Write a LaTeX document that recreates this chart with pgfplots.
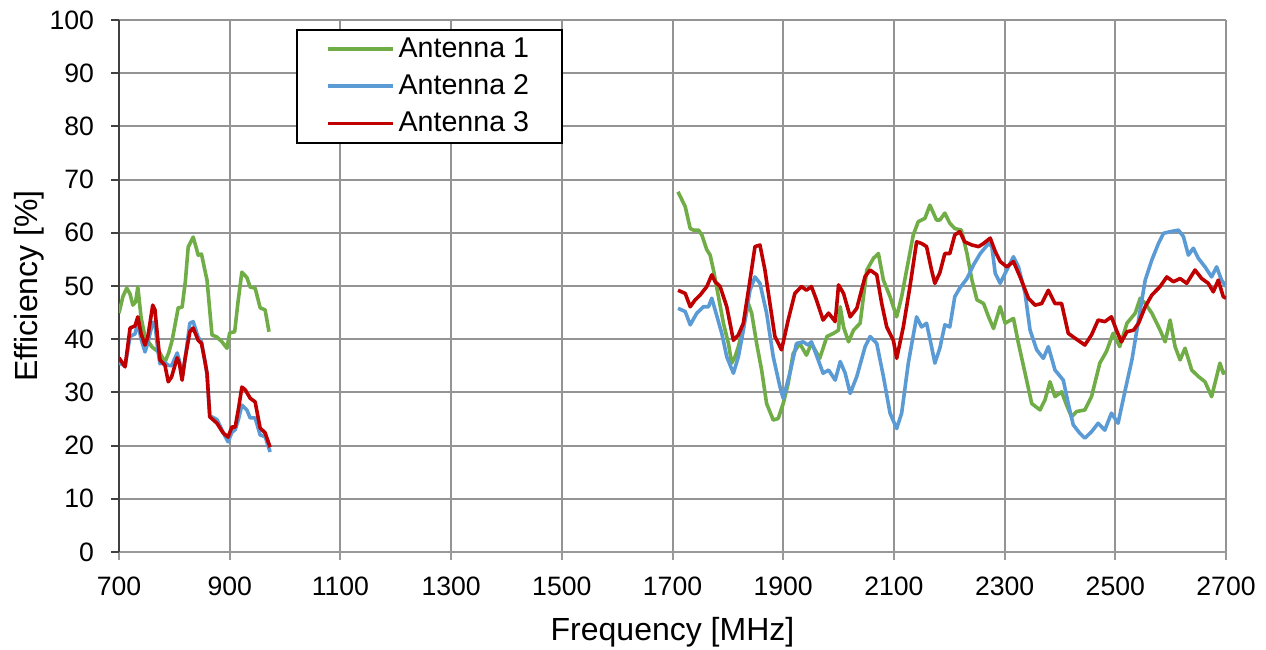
\documentclass[border=0pt]{standalone}
\usepackage{fontspec}
\setmainfont{Liberation Sans}
\usepackage{pgfplots}
\pgfplotsset{compat=1.18}
\usetikzlibrary{calc}
\definecolor{antA}{RGB}{112,173,71}
\definecolor{antB}{RGB}{91,155,213}
\definecolor{antC}{RGB}{192,0,0}
\begin{document}
\begin{tikzpicture}
\begin{axis}[
  name=ax, at={(0,0)}, anchor=south west,
  width=553.5pt, height=266pt, scale only axis,
  xmin=700, xmax=2700, ymin=0, ymax=100,
  xtick={700,900,...,2700}, ytick distance=10,
  axis x line*=bottom, axis y line*=left,
  x axis line style={black!40, line width=1pt},
  y axis line style={black!75, line width=1.1pt},
  xtick style={black!40, line width=1pt},
  ytick style={black!75, line width=1pt},
  tick align=outside, major tick length=4pt,
  grid=major, major grid style={black!42, line width=1pt},
  tick label style={font=\fontsize{13.3}{15}\selectfont,
    /pgf/number format/assume math mode=true,
    /pgf/number format/1000 sep={}},
  yticklabel style={xshift=-5pt},
  xticklabel style={yshift=-5pt},
  xlabel={Frequency [MHz]}, ylabel={Efficiency [\%]},
  label style={font=\fontsize{16}{19}\selectfont},
  xlabel style={at={(axis description cs:0.5,-0.150)}, anchor=center},
  ylabel style={at={(axis description cs:-0.081,0.5)}, anchor=center},
  unbounded coords=jump,
  legend style={at={(axis description cs:0.160,0.983)}, anchor=north west,
    draw=black, line width=0.9pt, font=\fontsize{14.3}{16}\selectfont,
    inner xsep=14.5pt, inner ysep=2pt, row sep=3.1pt},
  legend cell align=left,
  legend image code/.code={\path (0pt,0pt) -- (4.5pt,0pt);
    \draw[#1, line width=1.8pt] (4.5pt,0pt) -- (32.5pt,0pt);},
]

\addplot[antA, line width=1.8pt, line join=round] coordinates {
(700,44.9) (707,48) (714,49.6) (720,48.5) (725,46.4) (730,47) (734,49.8) (740,44)
(747,40.4) (760,38.5) (774,37.4) (783,35.7) (790,37.5) (796,39.8) (807,45.9)
(814,46) (820,51) (825,57.3) (834,59.2) (840,57) (843,55.8) (849,56) (859,51.1)
(868,40.8) (877,40.4) (886,39.5) (895,38.3) (900,41.2) (909,41.4) (915,47)
(922,52.6) (931,51.6) (937,49.8) (946,49.6) (955,45.9) (964,45.5) (971,41.4)
(1300,nan)
(1710,67.7) (1723,64.9) (1732,60.8) (1738,60.5) (1747,60.5) (1753,59.6) (1762,56.8)
(1768,55.8) (1774,53.0) (1783,48.0) (1792,43.0) (1801,39.2) (1807,35.5) (1813,36.7)
(1819,38.6) (1828,42.3) (1837,46.7) (1843,44.9) (1852,39.2) (1861,34.2) (1870,27.9)
(1882,24.8) (1891,25.1) (1900,27.9) (1909,31.7) (1918,37.3) (1930,39.2) (1942,37.0)
(1951,39.2) (1966,36.4) (1979,40.5) (1991,41.1) (2000,41.7) (2003,46.1) (2009,42.3)
(2018,39.5) (2027,41.7) (2039,43.0) (2051,53.0) (2063,55.2) (2072,56.1) (2081,51.1)
(2093,48.0) (2105,44.2) (2114,48.0) (2123,53.0) (2135,59.6) (2144,62.1) (2156,62.7)
(2165,65.2) (2177,62.4) (2183,62.4) (2192,63.7) (2201,61.8) (2210,60.8) (2222,60.5)
(2232,56.1) (2241,51.1) (2250,47.4) (2262,46.7) (2271,44.2) (2280,42.0) (2292,46.1)
(2301,43.0) (2316,43.9) (2325,39.2) (2337,33.6) (2349,27.9) (2364,26.7) (2373,28.6)
(2382,32.0) (2391,29.2) (2403,30.1) (2412,27.6) (2421,25.4) (2430,26.4) (2445,26.7)
(2457,29.2) (2472,35.5) (2484,37.7) (2496,41.1) (2508,38.6) (2521,43.0) (2536,44.9)
(2545,47.7) (2554,46.7) (2566,44.9) (2581,41.7) (2590,39.5) (2599,43.6) (2608,38.6)
(2617,36.1) (2626,38.3) (2638,34.2) (2650,33.0) (2662,32.0) (2674,29.2) (2689,35.5)
(2695,33.6) (2700,33.9)
};
\addlegendentry{Antenna 1}

\addplot[antB, line width=1.8pt, line join=round] coordinates {
(700,35.5) (711,35.0) (720,40.5) (729,41) (734,43) (740,40) (747,37.6) (752,39.3)
(761,43.2) (765,43) (770,38) (774,35.4) (783,35.6) (789,35.1) (795,35) (805,37.4)
(809,36) (814,32.8) (819,36) (828,43) (834,43.3) (843,40.4) (849,39.5) (859,33.6)
(864,25.6) (877,24.9) (888,22.5) (897,20.7) (904,22.5) (910,23) (916,25) (922,27.6)
(931,26.7) (937,25.2) (946,25.2) (955,22) (964,21.7) (973,18.8)
(1300,nan)
(1710,45.8) (1723,45.2) (1732,42.7) (1744,44.9) (1756,46.1) (1765,46.1) (1771,47.7)
(1777,45.5) (1789,41.1) (1798,36.7) (1810,33.6) (1819,36.7) (1828,41.7) (1840,49.2)
(1849,51.7) (1858,50.5) (1870,44.9) (1882,36.7) (1894,31.1) (1900,28.9) (1912,33.6)
(1924,39.2) (1936,39.5) (1945,38.9) (1951,39.5) (1960,37.0) (1972,33.6) (1982,34.2)
(1994,32.3) (2003,35.8) (2012,33.6) (2021,29.8) (2033,33.0) (2048,38.6) (2057,40.5)
(2069,39.2) (2081,33.0) (2093,26.1) (2105,23.2) (2114,26.1) (2126,35.5) (2141,44.2)
(2150,42.3) (2159,43.0) (2168,38.6) (2174,35.5) (2183,38.3) (2192,42.7) (2201,42.3)
(2210,48.0) (2219,49.6) (2232,51.4) (2244,54.0) (2256,56.1) (2271,58.0) (2277,57.4)
(2283,52.4) (2292,50.5) (2304,53.0) (2316,55.5) (2325,53.6) (2337,48.6) (2346,41.7)
(2358,38.0) (2370,36.4) (2379,38.6) (2391,34.2) (2406,32.3) (2415,27.9) (2424,23.9)
(2436,22.3) (2445,21.4) (2457,22.6) (2469,24.2) (2481,22.9) (2493,26.1) (2505,24.2)
(2518,30.5) (2530,36.1) (2542,43.6) (2554,51.1) (2566,54.9) (2578,58.0) (2587,59.9)
(2599,60.2) (2614,60.5) (2623,59.3) (2632,55.8) (2641,57.1) (2650,55.2) (2662,53.6)
(2674,51.7) (2683,53.6) (2692,51.1) (2700,49.9)
};
\addlegendentry{Antenna 2}

\addplot[antC, line width=1.8pt, line join=round] coordinates {
(700,36.5) (711,34.8) (720,42.1) (729,42.5) (734,44.2) (740,41) (747,38.9) (752,40.4)
(761,46.4) (765,45.5) (770,40) (774,36.1) (783,35.1) (789,32.0) (795,32.9) (805,36.5)
(809,35.5) (814,32.3) (819,36.1) (828,41.4) (834,42.1) (843,39.8) (849,39.2) (855,36)
(859,33.6) (864,25.4) (877,24.2) (888,22.4) (897,21.6) (904,23.5) (910,23.5) (916,27)
(922,31.0) (928,30.5) (937,28.9) (946,28.2) (955,23.3) (964,22.4) (973,19.7)
(1300,nan)
(1710,49.2) (1723,48.6) (1732,46.1) (1741,47.4) (1750,48.3) (1762,49.9) (1771,52.1)
(1777,50.8) (1786,49.9) (1798,46.1) (1810,39.8) (1819,40.8) (1828,43.0) (1840,51.1)
(1849,57.4) (1858,57.7) (1867,53.0) (1876,46.7) (1885,40.5) (1897,38.0) (1909,43.6)
(1921,48.6) (1933,49.9) (1942,49.2) (1951,49.9) (1960,47.4) (1972,43.6) (1982,44.9)
(1994,43.3) (2000,50.2) (2009,48.6) (2021,44.2) (2033,45.8) (2048,51.8) (2057,53.0)
(2069,52.1) (2078,46.7) (2087,42.3) (2099,39.8) (2105,36.4) (2117,42.3) (2129,49.9)
(2141,58.3) (2150,58.0) (2159,57.4) (2168,53.0) (2174,50.5) (2183,52.5) (2192,56.1)
(2201,56.1) (2210,59.6) (2219,60.2) (2228,58.3) (2241,57.7) (2253,57.4) (2262,58.0)
(2274,59.0) (2283,56.5) (2292,54.6) (2304,53.6) (2316,54.6) (2328,51.7) (2343,47.7)
(2355,46.4) (2367,46.7) (2379,49.2) (2391,46.7) (2403,46.7) (2415,41.1) (2427,40.2)
(2445,38.9) (2457,40.8) (2469,43.6) (2481,43.3) (2493,44.2) (2502,41.7) (2511,39.5)
(2521,41.4) (2533,41.7) (2542,43.0) (2554,46.1) (2566,48.3) (2581,49.9) (2593,51.7)
(2605,50.8) (2617,51.4) (2629,50.5) (2644,53.0) (2656,51.4) (2668,50.5) (2677,48.9)
(2686,51.1) (2695,48.0) (2700,47.7)
};
\addlegendentry{Antenna 3}

\end{axis}
\pgfresetboundingbox
\path ($(ax.south west)+(-59.5pt,-49pt)$) rectangle ($(ax.north east)+(20pt,10pt)$);
\end{tikzpicture}
\end{document}
